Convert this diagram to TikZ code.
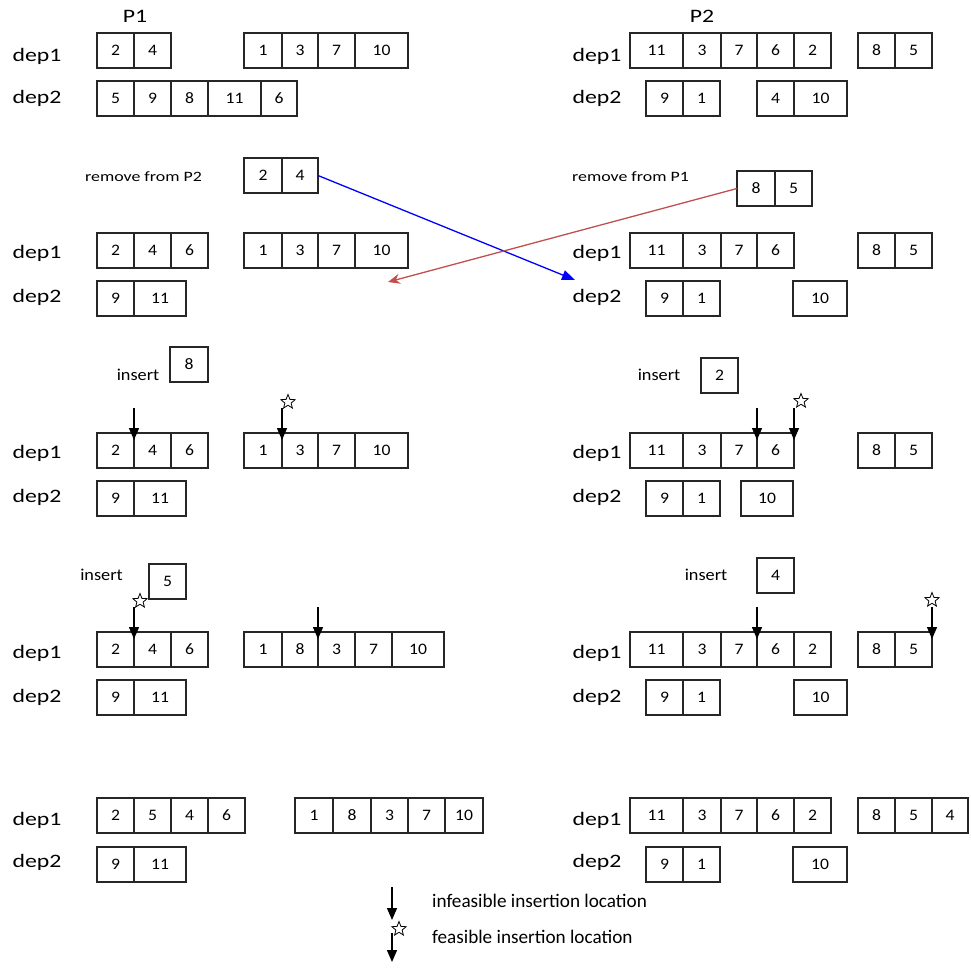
\documentclass[tikz,border=0pt]{standalone}
\usepackage{fontspec}
\setmainfont{Carlito}
\newfontfamily\widefont[FakeStretch=1.25]{Carlito}
\newfontfamily\midfont[FakeStretch=1.1]{Carlito}
\usetikzlibrary{arrows.meta,shapes.geometric,calc}
\definecolor{arrred}{RGB}{192,80,77}
\newcommand\boxrow[4]{%
  \xdef\bxpos{#2}%
  \foreach \cw/\cl [count=\ci] in {#4} {%
    \node[cell, minimum width=\cw] (#1-\ci) at (\bxpos,#3) {\cl};
    \pgfmathsetmacro\nbx{\bxpos+\cw}\xdef\bxpos{\nbx}%
  }%
}
\newcommand\insmark[2]{%
  \coordinate (#2t) at ($(#1)+(0,7)$);
  \coordinate (#2s) at ($(#1)+(0,-25)$);
  \draw[insarrow] (#2s) -- (#2t);
}
\tikzset{
  cell/.style={draw=black!85, line width=1.2pt, anchor=north west, minimum height=35,
    inner sep=0pt, outer sep=0pt, font=\midfont\fontsize{16}{16}\selectfont},
  deplab/.style={inner sep=0pt, font=\widefont\fontsize{19}{19}\selectfont},
  head/.style={inner sep=0pt, font=\widefont\fontsize{19}{19}\selectfont},
  smalltxt/.style={inner sep=0pt, font=\widefont\fontsize{14.3}{14.3}\selectfont},
  instxt/.style={inner sep=0pt, font=\midfont\fontsize{16.6}{16.6}\selectfont},
  legtxt/.style={inner sep=0pt, anchor=west, font=\fontsize{19.2}{19.2}\selectfont},
  insarrow/.style={line width=1.4pt, -{Triangle[width=10pt,length=12pt]}},
  fstar/.style={star, star points=5, star point ratio=2.3, draw, line width=0.8pt,
    minimum size=15pt, inner sep=0pt, fill=white},
}
\begin{document}
\begin{tikzpicture}[x=1pt,y=-1pt]
\useasboundingbox (0,0) rectangle (971,968);

% headers
\node[head] (P1) at (135,16) {P1};
\node[head] (P2) at (702,16) {P2};

% dep labels
\foreach \yy/\zz [count=\k] in {56/98,253/297,453/497,653/697,820/862} {
  \node[deplab] (ld1-\k) at (37,\yy) {dep1};
  \node[deplab] (ld2-\k) at (37,\zz) {dep2};
  \node[deplab] (rd1-\k) at (597,\yy) {dep1};
  \node[deplab] (rd2-\k) at (597,\zz) {dep2};
}

% ---- row 1
\boxrow{r1a}{97}{33}{37/2,37/4}
\boxrow{r1b}{244}{33}{38/1,36/3,37/7,53/10}
\boxrow{r1e}{97}{81}{37/5,37/9,37/8,53/11,36/6}
\boxrow{r1c}{630}{33}{53/11,38/3,36/7,37/6,37/2}
\boxrow{r1d}{858}{33}{37/8,37/5}
\boxrow{r1f}{646}{81}{37/9,37/1}
\boxrow{r1g}{757}{81}{37/4,53/10}

% ---- row 2
\node[smalltxt] (rm2) at (143.5,177) {remove from P2};
\boxrow{rmA}{244}{158}{38/2,36/4}
\node[smalltxt] (rm1) at (630.5,177) {remove from P1};
\boxrow{rmB}{737}{171}{38/8,37/5}
\boxrow{r2a}{97}{233}{37/2,37/4,37/6}
\boxrow{r2b}{244}{233}{38/1,36/3,37/7,53/10}
\boxrow{r2e}{97}{281}{37/9,52/11}
\boxrow{r2c}{630}{233}{53/11,38/3,36/7,37/6}
\boxrow{r2d}{858}{233}{37/8,37/5}
\boxrow{r2f}{646}{281}{37/9,37/1}
\boxrow{r2g}{793}{281}{54/10}
\coordinate (blueEnd) at (575,280);
\coordinate (redEnd) at (388,282);
\draw[blue, line width=1.3pt, -{Triangle[width=10pt,length=13pt]}] (rmA-2.east) -- (blueEnd);
\draw[arrred, line width=1.3pt, -{Stealth[width=10pt,length=12pt]}] (rmB-1.west) -- (redEnd);

% ---- row 3
\node[instxt] (ins1) at (138,375) {insert};
\boxrow{in8}{170}{347}{38/8}
\node[instxt] (ins2) at (659,375) {insert};
\boxrow{in2}{701}{358}{37/2}
\boxrow{r3a}{97}{433}{37/2,37/4,37/6}
\boxrow{r3b}{244}{433}{38/1,36/3,37/7,53/10}
\boxrow{r3e}{97}{481}{37/9,52/11}
\boxrow{r3c}{630}{433}{53/11,38/3,36/7,37/6}
\boxrow{r3d}{858}{433}{37/8,37/5}
\boxrow{r3f}{646}{481}{37/9,37/1}
\boxrow{r3g}{741}{481}{52/10}
\insmark{r3a-1.north east}{m1}
\insmark{r3b-1.north east}{m2}
\node[fstar] (st2) at ($(r3b-1.north east)+(6,-31)$) {};
\insmark{r3c-3.north east}{m3}
\insmark{r3c-4.north east}{m4}
\node[fstar] (st4) at ($(r3c-4.north east)+(7,-32)$) {};

% ---- row 4
\node[instxt] (ins3) at (101.5,575) {insert};
\boxrow{in5}{149}{564}{37/5}
\node[instxt] (ins4) at (706,575) {insert};
\boxrow{in4}{757}{558}{37/4}
\boxrow{r4a}{97}{632}{37/2,37/4,37/6}
\boxrow{r4b}{244}{632}{38/1,36/8,37/3,37/7,52/10}
\boxrow{r4e}{97}{680}{37/9,52/11}
\boxrow{r4c}{630}{632}{53/11,38/3,36/7,37/6,37/2}
\boxrow{r4d}{858}{632}{37/8,37/5}
\boxrow{r4f}{646}{680}{37/9,37/1}
\boxrow{r4g}{794}{680}{53/10}
\insmark{r4a-1.north east}{m5}
\node[fstar] (st5) at ($(r4a-1.north east)+(6,-31)$) {};
\insmark{r4b-2.north east}{m6}
\insmark{r4c-3.north east}{m7}
\insmark{r4d-2.north east}{m8}
\node[fstar] (st8) at ($(r4d-2.north east)+(0,-32)$) {};

% ---- row 5
\boxrow{r5a}{97}{798}{37/2,37/5,37/4,37/6}
\boxrow{r5b}{295}{798}{38/1,38/8,37/3,37/7,38/10}
\draw[line width=2.4pt, black!85] (r5b-1.north east) -- (r5b-1.south east);
\boxrow{r5e}{97}{847}{37/9,52/11}
\boxrow{r5c}{630}{798}{53/11,38/3,36/7,37/6,37/2}
\boxrow{r5d}{858}{798}{37/8,37/5,36/4}
\boxrow{r5f}{646}{847}{37/9,37/1}
\boxrow{r5g}{793}{847}{54/10}

% ---- legend
\coordinate (lg1s) at (392,887);
\coordinate (lg1t) at (392,920);
\coordinate (lg2s) at (392,933);
\coordinate (lg2t) at (392,962);
\draw[insarrow] (lg1s) -- (lg1t);
\draw[insarrow] (lg2s) -- (lg2t);
\node[fstar] (lgstar) at (399,929) {};
\node[legtxt] (lgt1) at (432,901) {infeasible insertion location};
\node[legtxt] (lgt2) at (432,937) {feasible insertion location};
\end{tikzpicture}
\end{document}
